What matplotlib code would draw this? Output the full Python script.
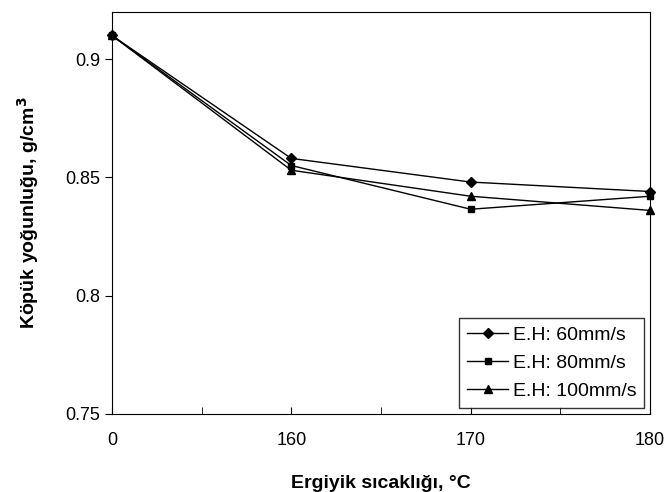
import matplotlib
matplotlib.use('Agg')
import matplotlib.pyplot as plt

plt.rcParams['font.family'] = ['Liberation Sans', 'DejaVu Sans']

sicaklik = ['0', '160', '170', '180']
eh60 = [0.910, 0.858, 0.848, 0.844]
eh80 = [0.910, 0.855, 0.8365, 0.842]
eh100 = [0.910, 0.853, 0.842, 0.836]

seriler = [
    ('E.H: 60mm/s', eh60, 'D', 5),
    ('E.H: 80mm/s', eh80, 's', 5),
    ('E.H: 100mm/s', eh100, '^', 6),
]

fig = plt.figure(figsize=(6.66, 4.92), dpi=100)
ax = fig.add_axes([0.168, 0.159, 0.808, 0.817])

x = list(range(len(sicaklik)))
for etiket, y, mk, ms in seriler:
    ax.plot(x, y, color='black', lw=1.0, marker=mk, ms=ms, label=etiket, clip_on=False)

ax.set_xlim(0, len(sicaklik) - 1)
ax.set_ylim(0.75, 0.92)
ax.set_xticks(x)
ax.set_xticklabels(sicaklik)
ax.set_xticks([0.5, 1.5, 2.5], minor=True)
ax.tick_params(axis='x', which='both', direction='in', length=5, pad=13, labelsize=13)
ax.set_yticks([0.75, 0.8, 0.85, 0.9])
ax.set_yticklabels(['0.75', '0.8', '0.85', '0.9'])
ax.tick_params(axis='y', direction='out', length=5, labelsize=13)
ax.tick_params(top=False, right=False)

ax.set_xlabel('Ergiyik sıcaklığı, °C', fontsize=14, fontweight='bold', labelpad=19)
ax.set_ylabel('Köpük yoğunluğu, g/cm$^\\mathbf{3}$', fontsize=14, fontweight='bold', labelpad=17)

leg = ax.legend(loc='lower right', fontsize=14, frameon=True, fancybox=False,
                edgecolor='black', handlelength=2.1, borderaxespad=0.3,
                labelspacing=0.55, handletextpad=0.25, borderpad=0.4)
leg.get_frame().set_linewidth(1.0)

fig.savefig('out.png', dpi=100)
